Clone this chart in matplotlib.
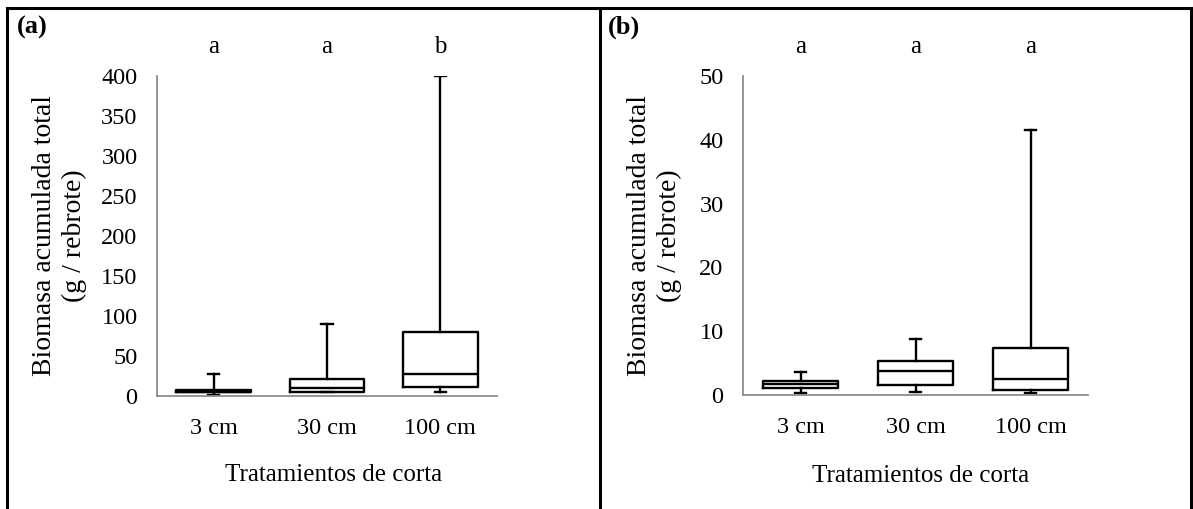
import numpy as np
import matplotlib
matplotlib.use("Agg")
import matplotlib.pyplot as plt
from matplotlib.lines import Line2D
import matplotlib.transforms as mtransforms

# categories and letters of significance
categories = ["3 cm", "30 cm", "100 cm"]
letters_a = ["a", "a", "b"]
letters_b = ["a", "a", "a"]

# panel (a) box stats: min, q1, median, q3, max
a_min = [1.5, 5.5, 5.0]
a_q1 = [4.5, 5.5, 11.5]
a_med = [5.5, 10.5, 28.0]
a_q3 = [7.0, 21.0, 80.0]
a_max = [27.0, 90.0, 400.0]

# panel (b) box stats
b_min = [0.25, 0.45, 0.25]
b_q1 = [1.15, 1.55, 0.8]
b_med = [1.7, 3.7, 2.5]
b_q3 = [2.25, 5.4, 7.3]
b_max = [3.65, 8.7, 41.6]

plt.rcParams["font.family"] = ["Liberation Serif", "DejaVu Serif"]
plt.rcParams["font.size"] = 17.5


def make_stats(mins, q1s, meds, q3s, maxs):
    stats = []
    for lo, q1, med, q3, hi in zip(mins, q1s, meds, q3s, maxs):
        stats.append({"whislo": lo, "q1": q1, "med": med, "q3": q3,
                      "whishi": hi, "fliers": []})
    return stats


def draw_panel(ax, stats, ymax, ystep, letters, label_x, xlab_x, xlab_y):
    props = dict(color="black", linewidth=1.7)
    ax.bxp(stats, positions=range(len(stats)), widths=0.66,
           boxprops=props, medianprops=props, whiskerprops=props,
           capprops=props, capwidths=0.1, showfliers=False)
    ax.set_xlim(-0.5, len(stats) - 0.5)
    ax.set_ylim(0, ymax)
    ax.set_yticks(np.arange(0, ymax + 1, ystep))
    ax.set_xticks(range(len(stats)))
    ax.set_xticklabels(categories)
    ax.tick_params(length=0)
    ax.tick_params(axis="y", pad=14)
    ax.tick_params(axis="x", pad=16)
    for s in ["top", "right"]:
        ax.spines[s].set_visible(False)
    for s in ["left", "bottom"]:
        ax.spines[s].set_color("#8c8c8c")
        ax.spines[s].set_linewidth(1.3)
    ax.set_ylabel("Biomasa acumulada total\n(g / rebrote)", fontsize=20,
                  linespacing=1.25)
    ax.yaxis.set_label_coords(label_x, 0.5)
    ax.set_xlabel("Tratamientos de corta", fontsize=18)
    ax.xaxis.set_label_coords(xlab_x, xlab_y)
    trans = mtransforms.blended_transform_factory(ax.transData, ax.transAxes)
    for i, t in enumerate(letters):
        ax.text(i, 1.09, t, transform=trans, ha="center", va="center",
                fontsize=18)


fig = plt.figure(figsize=(11.93, 5.09), dpi=100)
ax1 = fig.add_axes([157 / 1193, 1 - 396 / 509, 340 / 1193, 320 / 509])
ax2 = fig.add_axes([743 / 1193, 1 - 395 / 509, 345 / 1193, 319 / 509])

draw_panel(ax1, make_stats(a_min, a_q1, a_med, a_q3, a_max), 400, 50,
           letters_a, -0.206, 0.52, -0.2125)
draw_panel(ax2, make_stats(b_min, b_q1, b_med, b_q3, b_max), 50, 10,
           letters_b, -0.177, 0.514, -0.219)

# panel borders
W, H = 1193, 509
lw = 2.2
for (x0, y0, x1, y1) in [(7, 8, 1191, 8), (7, 8, 7, 509),
                         (600, 8, 600, 509), (1191, 8, 1191, 509)]:
    fig.add_artist(Line2D([x0 / W, x1 / W], [1 - y0 / H, 1 - y1 / H],
                          color="black", linewidth=lw,
                          transform=fig.transFigure))

fig.text(17 / W, 1 - 27 / H, "(a)", fontsize=19, fontweight="bold",
         va="center", ha="left")
fig.text(608 / W, 1 - 27 / H, "(b)", fontsize=19, fontweight="bold",
         va="center", ha="left")

fig.savefig("out.png", dpi=100)
